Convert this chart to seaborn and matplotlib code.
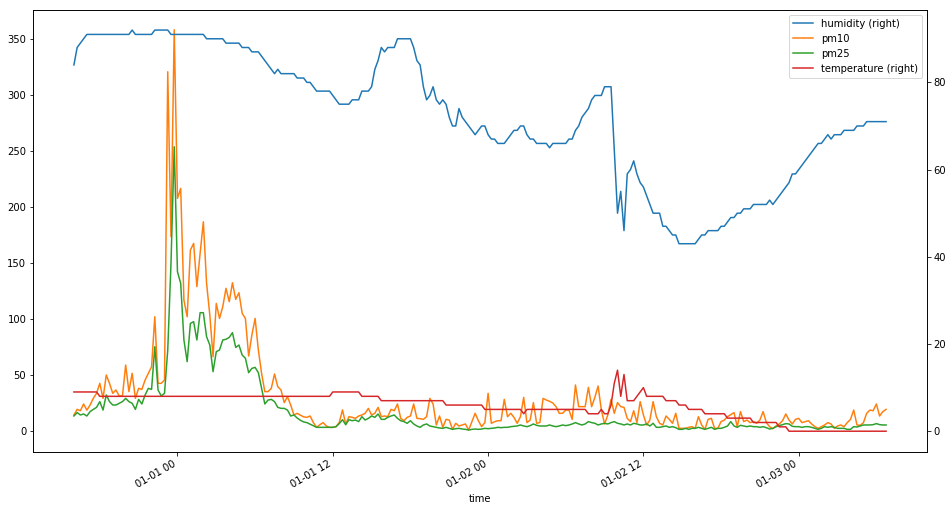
import matplotlib
matplotlib.use("Agg")
import matplotlib.pyplot as plt
import matplotlib.dates as mdates
import numpy as np
import pandas as pd
import seaborn as sns

# ---------------- data (15-minute samples starting 2016-12-31 16:00) ----------------
START = "2016-12-31 16:00"
STEP = "15min"

pm10 = [14.7, 19.7, 18.5, 24.5, 19.0, 23.6, 29.5, 34.0, 42.9, 29.5,
        50.3, 42.9, 34.0, 37.0, 31.6, 31.6, 59.2, 35.5, 51.8, 29.5,
        38.4, 37.5, 45.8, 51.8, 57.7, 102.2, 42.9, 42.9, 45.8, 320.4,
        173.5, 357.8, 207.6, 216.5, 117.0, 102.2, 161.6, 167.5, 129.0, 158.6,
        186.8, 132.0, 103.7, 66.6, 114.0, 100.7, 111.1, 127.5, 115.6, 132.5,
        117.7, 123.6, 105.2, 100.7, 67.2, 85.9, 100.7, 72.6, 51.8, 35.5,
        35.5, 38.4, 51.2, 39.9, 37.0, 25.7, 31.0, 23.6, 14.7, 16.2,
        14.5, 13.0, 12.6, 13.8, 7.9, 3.7, 6.0, 7.9, 4.9, 3.7,
        3.7, 4.3, 8.0, 19.2, 6.7, 13.2, 12.6, 11.7, 13.8, 14.7,
        16.2, 20.6, 14.7, 16.2, 21.5, 13.2, 13.8, 13.2, 19.7, 18.5,
        24.5, 11.7, 9.6, 12.6, 13.8, 24.5, 11.7, 11.4, 10.8, 13.2,
        29.5, 24.5, 5.8, 13.8, 3.7, 10.8, 10.2, 1.9, 7.3, 4.9,
        5.8, 6.7, 1.3, 8.7, 16.2, 9.6, 4.3, 7.9, 34.0, 7.3,
        8.7, 9.6, 9.6, 28.6, 13.2, 16.2, 12.6, 7.3, 13.2, 30.4,
        7.9, 10.2, 25.7, 7.3, 8.0, 29.5, 28.0, 26.9, 25.4, 22.1,
        16.2, 16.2, 19.1, 19.1, 10.8, 41.4, 22.1, 22.1, 22.1, 39.3,
        22.1, 30.4, 40.5, 19.1, 6.7, 14.7, 28.6, 16.2, 25.7, 22.1,
        21.5, 11.7, 8.8, 18.5, 7.9, 26.6, 14.7, 5.8, 10.2, 26.6,
        13.2, 7.3, 5.8, 13.8, 10.8, 7.3, 16.2, 2.8, 2.8, 2.8,
        3.7, 4.3, 2.8, 13.2, 5.8, 1.9, 10.8, 11.7, 2.8, 2.8,
        8.8, 10.2, 13.2, 15.0, 16.8, 4.3, 17.7, 8.8, 10.2, 7.9,
        8.8, 7.3, 10.2, 17.7, 7.9, 4.3, 2.5, 4.9, 6.7, 9.6,
        15.6, 10.2, 6.7, 10.8, 11.7, 7.9, 8.8, 9.6, 6.7, 4.3,
        2.8, 4.3, 5.8, 7.9, 6.7, 2.8, 4.9, 5.8, 4.3, 7.9,
        10.8, 19.1, 5.8, 5.5, 7.9, 16.2, 19.1, 18.5, 24.5, 13.8,
        17.7, 19.7]

pm25 = [13.8, 16.8, 14.7, 15.6, 13.8, 17.7, 19.7, 21.5, 26.6, 19.1,
        32.5, 26.6, 23.6, 23.6, 25.1, 26.6, 29.5, 26.6, 25.1, 19.7,
        28.6, 24.5, 32.5, 38.4, 37.5, 75.5, 37.0, 31.6, 34.0, 72.6,
        149.7, 253.6, 142.3, 131.9, 81.5, 62.2, 96.3, 97.8, 81.5, 105.8,
        105.8, 84.4, 77.0, 53.3, 71.1, 72.6, 81.5, 82.1, 83.8, 88.0,
        74.9, 77.0, 68.1, 65.2, 52.4, 56.2, 57.1, 52.4, 38.4, 24.5,
        28.0, 28.6, 26.6, 21.5, 20.6, 20.6, 19.1, 13.8, 14.7, 12.0,
        10.0, 8.5, 7.9, 6.5, 5.0, 3.7, 3.7, 3.7, 3.7, 3.7,
        3.7, 4.3, 7.0, 10.5, 6.0, 10.5, 9.6, 10.2, 8.8, 13.2,
        10.2, 11.7, 13.8, 12.6, 15.6, 10.8, 10.8, 12.6, 13.8, 14.7,
        11.7, 9.6, 8.8, 7.3, 9.6, 6.7, 4.9, 3.7, 5.8, 6.7,
        4.9, 4.3, 3.7, 3.1, 2.8, 3.7, 2.8, 1.9, 2.5, 2.8,
        2.2, 1.9, 1.3, 1.9, 2.2, 1.9, 2.2, 2.8, 2.5, 2.8,
        3.1, 3.7, 3.4, 3.7, 3.7, 4.3, 4.6, 4.9, 5.8, 4.9,
        4.3, 5.2, 6.7, 5.5, 4.9, 4.9, 4.9, 5.8, 4.9, 4.3,
        4.9, 5.8, 5.2, 5.8, 6.7, 7.9, 6.7, 5.8, 6.7, 8.8,
        7.9, 7.3, 5.8, 6.7, 7.3, 6.7, 7.9, 8.8, 7.3, 6.7,
        5.8, 6.7, 5.8, 7.3, 6.7, 5.8, 5.8, 6.7, 4.9, 7.3,
        3.7, 3.7, 4.3, 4.9, 3.7, 4.3, 3.4, 1.9, 1.9, 2.8,
        1.9, 2.8, 2.8, 3.7, 2.8, 1.9, 2.8, 3.7, 1.9, 2.8,
        2.8, 3.7, 4.9, 8.8, 4.9, 3.7, 5.5, 4.9, 4.3, 4.9,
        4.3, 4.3, 3.7, 4.3, 3.4, 2.2, 2.8, 4.3, 5.2, 6.1,
        7.0, 6.7, 4.6, 4.3, 4.3, 3.7, 4.3, 4.3, 3.7, 2.8,
        1.9, 2.8, 4.3, 3.7, 4.3, 3.7, 2.8, 2.8, 2.8, 1.9,
        1.9, 4.3, 4.0, 4.9, 5.8, 5.8, 5.8, 6.1, 7.0, 6.1,
        5.8, 5.8]

# humidity / temperature: sample slot (15-min index) where the value changes
humidity_slot = [0, 1, 4, 17, 18, 19, 24, 25, 29, 30,
                 40, 41, 46, 47, 51, 52, 54, 55, 57, 62,
                 63, 64, 68, 69, 71, 72, 73, 75, 79, 80,
                 82, 85, 86, 88, 89, 91, 92, 93, 94, 95,
                 96, 97, 99, 100, 104, 105, 106, 107, 108, 109,
                 110, 111, 112, 113, 114, 115, 116, 117, 118, 119,
                 120, 122, 124, 125, 126, 127, 128, 129, 130, 131,
                 133, 134, 136, 137, 138, 139, 140, 141, 142, 143,
                 146, 147, 148, 152, 153, 154, 155, 156, 157, 159,
                 160, 161, 163, 164, 166, 168, 169, 170, 171, 172,
                 173, 174, 175, 176, 177, 178, 179, 181, 182, 183,
                 184, 185, 186, 187, 192, 193, 194, 195, 196, 199,
                 200, 201, 203, 204, 205, 206, 207, 209, 210, 214,
                 215, 216, 221, 222, 223, 230, 231, 233, 234, 235,
                 237, 238, 241, 242, 244, 245, 251]
humidity = [84, 88, 91, 91, 92, 91, 91, 92, 92, 91,
            91, 90, 90, 89, 89, 88, 88, 87, 87, 82,
            83, 82, 82, 81, 81, 80, 80, 78, 78, 77,
            75, 75, 76, 76, 78, 78, 79, 83, 85, 88,
            87, 88, 88, 90, 90, 88, 85, 84, 79, 76,
            77, 79, 76, 75, 76, 75, 72, 70, 70, 74,
            72, 70, 68, 69, 70, 70, 68, 67, 67, 66,
            66, 67, 69, 69, 70, 70, 68, 67, 67, 66,
            66, 65, 66, 66, 67, 67, 69, 70, 72, 74,
            76, 77, 77, 79, 79, 50, 55, 46, 59, 60,
            62, 59, 57, 56, 54, 52, 50, 50, 47, 47,
            46, 45, 45, 43, 43, 44, 45, 45, 46, 46,
            47, 47, 49, 49, 50, 50, 51, 51, 52, 52,
            53, 52, 57, 59, 59, 66, 66, 68, 67, 68,
            68, 69, 69, 70, 70, 71, 71]

temperature_slot = [0, 7, 8, 79, 80, 88, 89, 94, 95, 114,
                    115, 126, 127, 138, 139, 140, 158, 159, 162, 163,
                    164, 165, 166, 167, 168, 169, 170, 171, 173, 176,
                    177, 182, 183, 186, 187, 189, 190, 194, 195, 201,
                    202, 209, 210, 217, 218, 220, 221, 251]
temperature = [9, 9, 8, 8, 9, 9, 8, 8, 7, 7,
               6, 6, 5, 5, 4, 5, 5, 4, 4, 5,
               4, 4, 6, 11, 14, 8, 13, 7, 7, 10,
               8, 8, 7, 7, 6, 6, 5, 5, 4, 4,
               3, 3, 2, 2, 1, 1, 0, 0]

# ---------------- build time stamps ----------------
t0 = pd.Timestamp(START)
step = pd.Timedelta(STEP)
times = t0 + step * np.arange(len(pm10))
hum_times = t0 + step * np.array(humidity_slot)
temp_times = t0 + step * np.array(temperature_slot)

df_pm = pd.DataFrame({"time": times, "pm10": pm10, "pm25": pm25})
df_h = pd.DataFrame({"time": hum_times, "humidity": humidity})
df_t = pd.DataFrame({"time": temp_times, "temperature": temperature})

# ---------------- figure ----------------
W, H, DPI = 952, 510, 72
fig = plt.figure(figsize=(W / DPI, H / DPI), dpi=DPI)
ax = fig.add_axes([33.3 / W, 1 - 451.7 / H, (926.7 - 33.3) / W, (451.7 - 10) / H])

C0, C1, C2, C3 = "#1f77b4", "#ff7f0e", "#2ca02c", "#d62728"
LW = 1.5

sns.lineplot(data=df_pm, x="time", y="pm10", ax=ax, color=C1, linewidth=LW, legend=False)
sns.lineplot(data=df_pm, x="time", y="pm25", ax=ax, color=C2, linewidth=LW, legend=False)

ax2 = ax.twinx()
sns.lineplot(data=df_h, x="time", y="humidity", ax=ax2, color=C0, linewidth=LW, legend=False)
sns.lineplot(data=df_t, x="time", y="temperature", ax=ax2, color=C3, linewidth=LW, legend=False)

span = times[-1] - times[0]
ax.set_xlim(times[0] - 0.05 * span, times[-1] + 0.05 * span)
ax.set_ylim(-18.0, 375.4)
ax2.set_ylim(-4.7, 96.6)

ax.xaxis.set_major_locator(mdates.HourLocator(byhour=[0, 12]))
ax.xaxis.set_major_formatter(mdates.DateFormatter("%m-%d %H"))
ax.xaxis.set_minor_locator(matplotlib.ticker.NullLocator())
ax.tick_params(axis="x", labelrotation=30)
for lbl in ax.get_xticklabels():
    lbl.set_ha("right")

ax.set_xlabel("time")
ax.set_ylabel("")
ax2.set_ylabel("")
ax2.set_xlabel("")

handles = [
    matplotlib.lines.Line2D([], [], color=C0, lw=LW),
    matplotlib.lines.Line2D([], [], color=C1, lw=LW),
    matplotlib.lines.Line2D([], [], color=C2, lw=LW),
    matplotlib.lines.Line2D([], [], color=C3, lw=LW),
]
labels = ["humidity (right)", "pm10", "pm25", "temperature (right)"]
ax2.legend(handles, labels, loc="upper right")

fig.savefig("out.png", dpi=DPI)
